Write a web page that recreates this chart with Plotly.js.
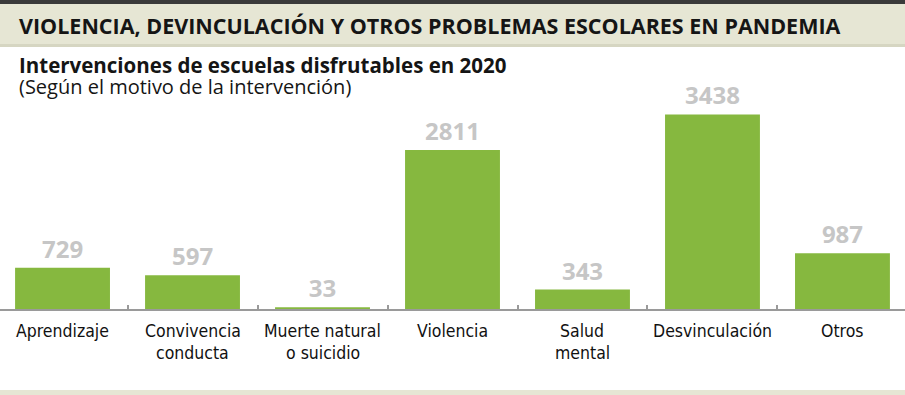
<!DOCTYPE html>
<html>
<head>
<meta charset="utf-8">
<script src="https://cdn.plot.ly/plotly-3.0.1.min.js"></script>
<style>
  html, body { margin: 0; padding: 0; background: #ffffff; }
  #chart { width: 905px; height: 395px; }
</style>
</head>
<body>
<div id="chart"></div>
<script>
// ---- data ----
const categories = ["Aprendizaje", "Convivencia<br>conducta", "Muerte natural<br>o suicidio", "Violencia", "Salud<br>mental", "Desvinculación", "Otros"];
const values = [729, 597, 33, 2811, 343, 3438, 987];
const titleText = "VIOLENCIA, DEVINCULACIÓN Y OTROS PROBLEMAS ESCOLARES EN PANDEMIA";
const subtitleText = "Intervenciones de escuelas disfrutables en 2020";
const noteText = "(Según el motivo de la intervención)";

// ---- styles ----
const green = "#86b83f";
const beige = "#e6e6d4";
const labelFont = "DejaVu Sans Condensed, DejaVu Sans, sans-serif";
const headFont = "Open Sans, Lato, sans-serif";

const trace = {
  type: "bar",
  x: categories,
  y: values,
  width: 0.73,
  marker: { color: green, line: { width: 0 } },
  text: values.map(String),
  textposition: "outside",
  cliponaxis: false,
  textfont: { family: "Open Sans, sans-serif", size: 24, color: "#c6c6c6", weight: "bold" },
  hoverinfo: "skip"
};

// split category labels into lines, one annotation per line
const labelAnns = [];
categories.forEach((c, i) => {
  c.split("<br>").forEach((line, j) => {
    labelAnns.push({
      x: i, xref: "x", y: 0, yref: "paper",
      yanchor: "middle", xanchor: "center",
      yshift: -22 - 22 * j,
      text: line, showarrow: false,
      font: { family: labelFont, size: 17.5, color: "#111111", stretch: "condensed" }
    });
  });
});

const headAnns = [
  { x: 0.0188, xref: "paper", y: 1, yref: "paper", xanchor: "left", yanchor: "middle", yshift: 35,
    text: "<b>" + titleText + "</b>", showarrow: false,
    font: { family: headFont, size: 21.5, color: "#151515" } },
  { x: 0.0188, xref: "paper", y: 1, yref: "paper", xanchor: "left", yanchor: "middle", yshift: -5,
    text: "<b>" + subtitleText + "</b>", showarrow: false,
    font: { family: headFont, size: 20.5, color: "#151515" } },
  { x: 0.0188, xref: "paper", y: 1, yref: "paper", xanchor: "left", yanchor: "middle", yshift: -26,
    text: noteText, showarrow: false,
    font: { family: headFont, size: 20, color: "#151515" } }
];

// pixel -> paper y helper (plot area: top 60, bottom 309)
const py = p => (309 - p) / 249;

const shapes = [
  { type: "rect", xref: "paper", yref: "paper", x0: 0, x1: 1, y0: py(4), y1: py(-2), fillcolor: "#3a3a3a", line: { width: 0 }, layer: "below" },
  { type: "rect", xref: "paper", yref: "paper", x0: 0, x1: 1, y0: py(44), y1: py(4), fillcolor: beige, line: { width: 0 }, layer: "below" },
  { type: "rect", xref: "paper", yref: "paper", x0: 0, x1: 1, y0: py(47), y1: py(44), fillcolor: "#d6d6c2", line: { width: 0 }, layer: "below" },
  { type: "rect", xref: "paper", yref: "paper", x0: 0, x1: 1, y0: py(397), y1: py(390), fillcolor: beige, line: { width: 0 }, layer: "below" }
];

const layout = {
  width: 905, height: 395,
  margin: { l: 0, r: 0, t: 60, b: 86, pad: 0 },
  paper_bgcolor: "#ffffff",
  plot_bgcolor: "#ffffff",
  showlegend: false,
  xaxis: {
    type: "category",
    range: [-0.481, 6.481],
    showticklabels: false,
    tickson: "boundaries",
    ticks: "inside",
    ticklen: 4,
    tickwidth: 2,
    tickcolor: "#9a9a9a",
    showline: true,
    linecolor: "#9a9a9a",
    linewidth: 2,
    showgrid: false,
    zeroline: false,
    fixedrange: true
  },
  yaxis: {
    range: [0, 4400],
    visible: false,
    showgrid: false,
    zeroline: false,
    fixedrange: true
  },
  shapes: shapes,
  annotations: headAnns.concat(labelAnns)
};

Plotly.newPlot("chart", [trace], layout, { displayModeBar: false, staticPlot: true });
</script>
</body>
</html>
